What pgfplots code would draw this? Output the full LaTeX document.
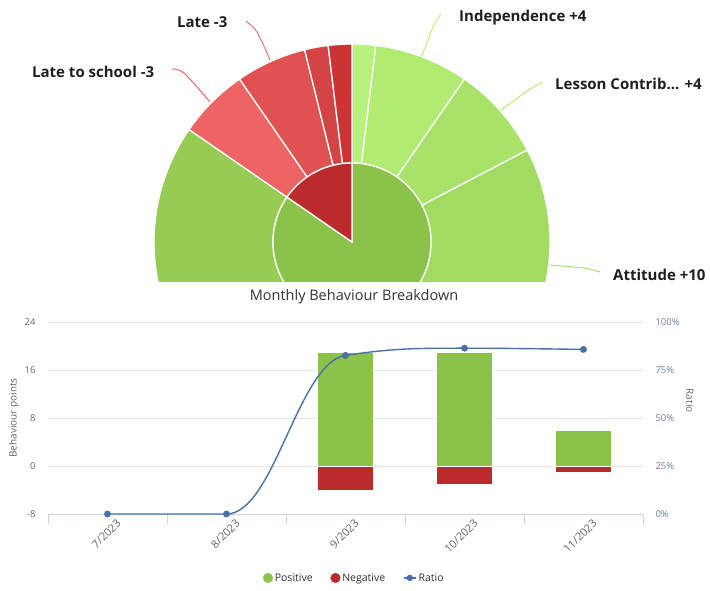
\documentclass[border=0pt]{standalone}
\usepackage{pgfplots}
\pgfplotsset{compat=1.18}
\usepackage{fontspec}
\setmainfont{Open Sans}
\definecolor{textc}{HTML}{333333}
\definecolor{plabc}{HTML}{1E1E1E}
\definecolor{labc}{HTML}{666666}
\definecolor{rlabc}{HTML}{6E7F9E}
\definecolor{gridc}{HTML}{E6E6E6}
\definecolor{axisc}{HTML}{CCD6EB}
\definecolor{posg}{HTML}{8BC34A}
\definecolor{negr}{HTML}{BB2B2B}
\definecolor{lineb}{HTML}{4A70A8}
\definecolor{gA}{HTML}{B8F27C}
\definecolor{gB}{HTML}{B1EB72}
\definecolor{gC}{HTML}{A8E268}
\definecolor{gD}{HTML}{A2DB61}
\definecolor{gE}{HTML}{9CD45B}
\definecolor{gF}{HTML}{96CC54}
\definecolor{rA}{HTML}{EE6363}
\definecolor{rB}{HTML}{E05252}
\definecolor{rC}{HTML}{D54444}
\definecolor{rD}{HTML}{CA3434}
% sunburst sectors: cumulative points (out of 52: 6.9230769 deg each) from, to, inner r, outer r, colour
\newcommand{\sunring}[5]{%
  \fill[#5, draw=white, line width=1.3pt]
   plot[domain={90-6.9230769*(#1)}:{90-6.9230769*(#2)}, samples=60, variable=\t]
     (axis cs:{#4*cos(\t)},{#4*sin(\t)})
   -- plot[domain={90-6.9230769*(#2)}:{90-6.9230769*(#1)}, samples=40, variable=\t]
     (axis cs:{#3*cos(\t)},{#3*sin(\t)}) -- cycle;}
\newcommand{\suncore}[4]{%
  \fill[#4, draw=white, line width=1.3pt]
   (axis cs:0,0) -- plot[domain={90-6.9230769*(#1)}:{90-6.9230769*(#2)}, samples=120, variable=\t]
     (axis cs:{#3*cos(\t)},{#3*sin(\t)}) -- cycle;}
\newcommand{\plab}{\fontsize{15}{17}\selectfont\bfseries}
\newcommand{\tlab}{\fontsize{9.5}{11}\selectfont}
\newcommand{\xlab}{\fontsize{11}{13}\selectfont}
\begin{document}
\begin{tikzpicture}
\path[use as bounding box] (0pt,0pt) rectangle (710pt,-590pt);
% ---------- sunburst (cropped) ----------
\begin{axis}[at={(0pt,0pt)}, anchor=north west, scale only axis,
  width=710pt, height=281pt, xmin=-352, xmax=358, ymin=-39, ymax=242,
  hide axis, clip=true]
\sunring{0}{1}{79}{198}{gA}
\sunring{1}{5}{79}{198}{gB}
\sunring{5}{9}{79}{198}{gC}
\sunring{9}{19}{79}{198}{gD}
\sunring{19}{31}{79}{198}{gE}
\sunring{31}{44}{79}{198}{gF}
\sunring{44}{47}{79}{198}{rA}
\sunring{47}{50}{79}{198}{rB}
\sunring{50}{51}{79}{198}{rC}
\sunring{51}{52}{79}{198}{rD}
\suncore{0}{44}{79}{posg}
\suncore{44}{52}{79}{negr}
\addplot[smooth, draw=rA, line width=1pt] coordinates {(-180,173) (-168,169) (-142,140)};
\addplot[smooth, draw=rB!80, line width=1pt] coordinates {(-106,221) (-95,210) (-82,182)};
\addplot[smooth, draw=gA, line width=1pt] coordinates {(89,228) (81,215) (70,186)};
\addplot[smooth, draw=gB, line width=1pt] coordinates {(191,160) (178,153) (149,132)};
\addplot[smooth, draw=gC, line width=1pt] coordinates {(248,-30) (232,-26) (197,-23)};
\node[anchor=west, font=\plab, text=plabc, inner sep=0pt] at (axis cs:-320,170) {Late to school -3};
\node[anchor=west, font=\plab, text=plabc, inner sep=0pt] at (axis cs:-175,220) {Late -3};
\node[anchor=west, font=\plab, text=plabc, inner sep=0pt] at (axis cs:107,224) {Independence +4};
\node[anchor=west, font=\plab, text=plabc, inner sep=0pt] at (axis cs:203,158) {Lesson Contrib... +4};
\node[anchor=west, font=\plab, text=plabc, inner sep=0pt] at (axis cs:261,-33) {Attitude +10};
\end{axis}
% ---------- title ----------
\node[font=\fontsize{14.5}{16}\selectfont, text=textc] at (354pt,-297pt) {Monthly Behaviour Breakdown};
% ---------- bars ----------
\begin{axis}[at={(48pt,-514pt)}, anchor=south west, scale only axis,
  width=595pt, height=192pt,
  xmin=-0.5, xmax=4.5, ymin=-8, ymax=24,
  axis x line*=bottom, axis y line*=left,
  axis line style={-},
  x axis line style={draw=axisc, line width=0.9pt},
  y axis line style={draw=none},
  tick align=outside, major tick length=0pt, minor tick length=10pt,
  xtick={0,1,2,3,4}, xticklabels={7/2023,8/2023,9/2023,10/2023,11/2023},
  minor xtick={-0.5,0.5,1.5,2.5,3.5,4.5},
  minor x tick style={draw=axisc, line width=0.9pt},
  major tick style={draw=none},
  ytick={-8,0,8,16,24},
  ymajorgrids, grid style={gridc, line width=0.9pt},
  /pgf/number format/assume math mode=true,
  yticklabel style={font=\tlab, text=labc, anchor=east, xshift=-9pt},
  xticklabel style={font=\xlab, text=labc, rotate=45, anchor=north east, inner sep=1pt, xshift=4pt, yshift=-8pt},
  ylabel={Behaviour points},
  every axis y label/.style={at={(axis description cs:-0.057,0.5)}, rotate=90, anchor=center, font=\fontsize{10}{12}\selectfont, text=labc},
]
\addplot[ybar, bar width=56pt, bar shift=0pt, fill=posg, draw=white, line width=0.8pt] coordinates {(2,19) (3,19) (4,6)};
\addplot[ybar, bar width=56pt, bar shift=0pt, fill=negr, draw=white, line width=0.8pt] coordinates {(2,-4) (3,-3) (4,-1)};
\end{axis}
% ---------- ratio ----------
\begin{axis}[at={(48pt,-514pt)}, anchor=south west, scale only axis,
  width=595pt, height=192pt,
  xmin=-0.5, xmax=4.5, ymin=0, ymax=100,
  axis x line=none, axis y line*=right,
  axis line style={-}, y axis line style={draw=none},
  major tick length=0pt, major tick style={draw=none},
  ytick={0,25,50,75,100},
  yticklabel={\pgfmathprintnumber{\tick}\%},
  /pgf/number format/assume math mode=true,
  yticklabel style={font=\tlab, text=rlabc, anchor=west, xshift=9pt},
  ylabel={Ratio},
  every axis y label/.style={at={(axis description cs:1.079,0.59)}, rotate=-90, anchor=center, font=\fontsize{10}{12}\selectfont, text=labc},
  clip=false,
  legend style={at={(axis description cs:0.515,-0.333)}, anchor=center, draw=none, fill=none,
    font=\fontsize{10.5}{12}\selectfont, text=textc, legend columns=3,
    /tikz/every even column/.append style={column sep=16pt}},
  legend cell align=left,
]
\addlegendimage{only marks, mark=*, mark size=4.8pt, color=posg}
\addlegendentry{Positive}
\addlegendimage{only marks, mark=*, mark size=4.8pt, color=negr}
\addlegendentry{Negative}
\addlegendimage{lineb, line width=1.4pt, mark=*, mark size=2.5pt,
  legend image code/.code={\draw[mark repeat=2, mark phase=2] plot coordinates {(0pt,0pt) (6pt,0pt) (12pt,0pt)};}}
\addlegendentry{Ratio}
\draw[lineb, line width=1.4pt] (axis cs:0,0) -- (axis cs:1,0)
  .. controls (axis cs:1.4,0) and (axis cs:1.6,78.86) .. (axis cs:2,82.61)
  .. controls (axis cs:2.4,86.36) and (axis cs:2.6,86.36) .. (axis cs:3,86.36)
  .. controls (axis cs:3.4,86.36) and (axis cs:4,85.71) .. (axis cs:4,85.71);
\addplot[forget plot, only marks, mark=*, mark size=3.2pt, color=lineb] coordinates {(0,0) (1,0) (2,82.61) (3,86.36) (4,85.71)};
\end{axis}
\end{tikzpicture}
\end{document}
